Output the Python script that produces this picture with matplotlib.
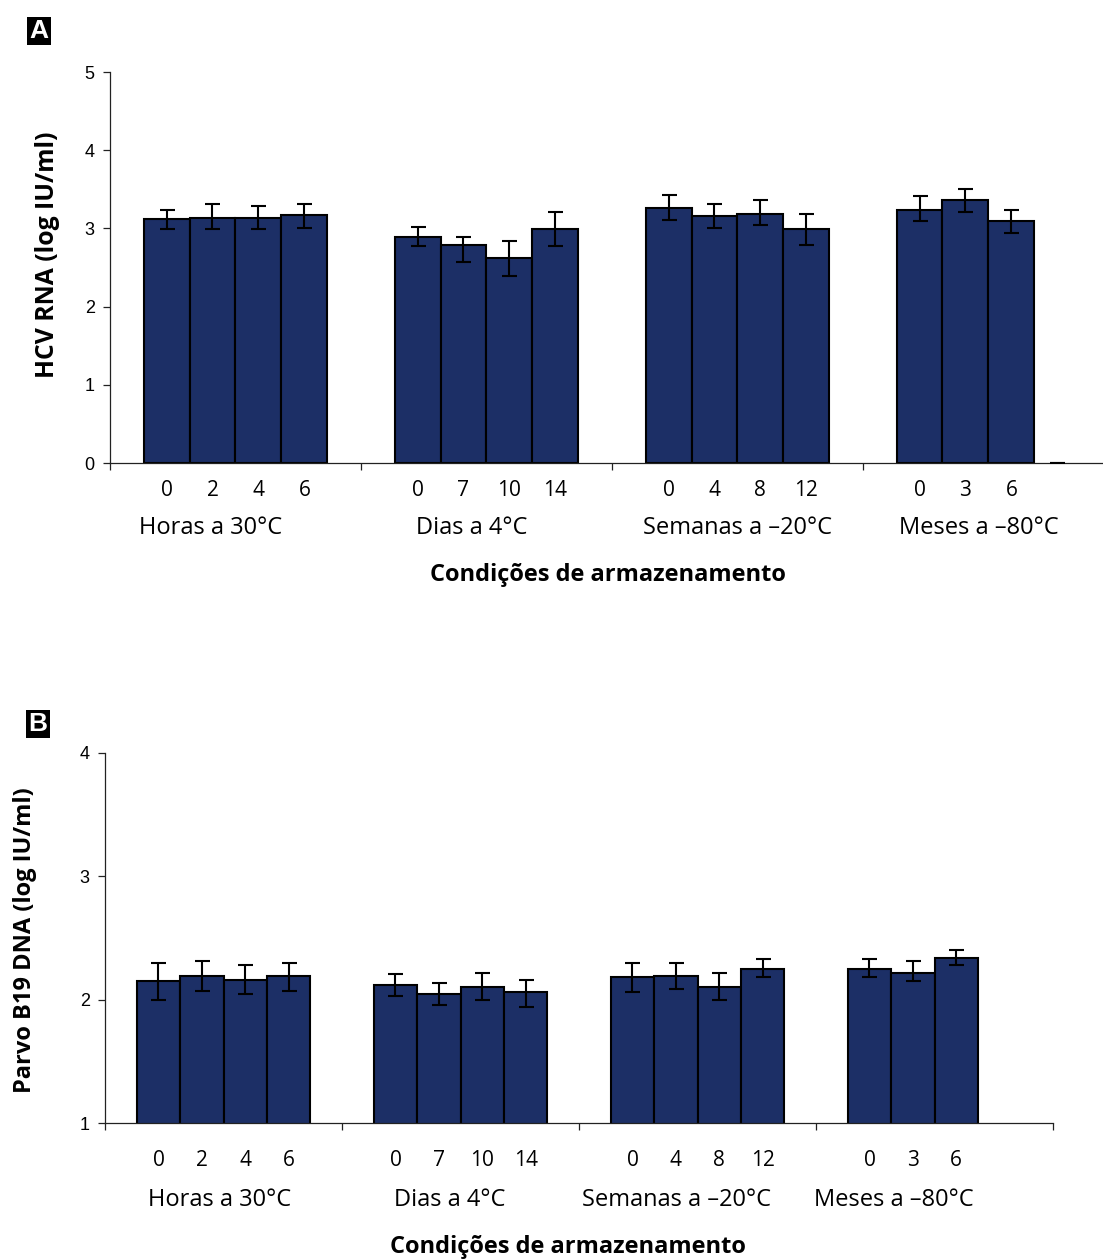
import matplotlib
matplotlib.use("Agg")
import matplotlib.pyplot as plt
import matplotlib.transforms as mtransforms

# Group names and per-bar labels (shared by both panels)
groups = ["Horas a 30°C", "Dias a 4°C", "Semanas a \u201320°C", "Meses a \u201380°C"]
bar_labels = [["0", "2", "4", "6"], ["0", "7", "10", "14"], ["0", "4", "8", "12"], ["0", "3", "6", ""]]

# Panel A - HCV RNA (log IU/ml)
hcv_vals = [3.12, 3.14, 3.14, 3.17, 2.89, 2.79, 2.62, 2.99,
            3.26, 3.16, 3.19, 2.99, 3.24, 3.36, 3.09, 0.0]
hcv_err_lo = [0.13, 0.15, 0.15, 0.16, 0.12, 0.22, 0.23, 0.22,
              0.15, 0.15, 0.15, 0.20, 0.15, 0.15, 0.15, 0.0]
hcv_err_hi = [0.12, 0.17, 0.15, 0.14, 0.13, 0.10, 0.22, 0.22,
              0.17, 0.15, 0.17, 0.20, 0.17, 0.15, 0.15, 0.0]

# Panel B - Parvo B19 DNA (log IU/ml)
b19_vals = [2.15, 2.195, 2.16, 2.195, 2.12, 2.05, 2.105, 2.06,
            2.18, 2.195, 2.10, 2.25, 2.25, 2.22, 2.34, 0.0]
b19_err_lo = [0.15, 0.125, 0.11, 0.125, 0.09, 0.09, 0.105, 0.12,
              0.12, 0.105, 0.10, 0.07, 0.07, 0.07, 0.06, 0.0]
b19_err_hi = [0.145, 0.115, 0.12, 0.105, 0.09, 0.085, 0.115, 0.10,
              0.12, 0.105, 0.12, 0.08, 0.08, 0.09, 0.06, 0.0]

BAR_COLOR = "#1c2f66"
LABEL_FONT = ["Open Sans", "DejaVu Sans"]
TICK_FONT = ["Liberation Sans", "DejaVu Sans"]

fig = plt.figure(figsize=(11.03, 12.60), dpi=100)


def draw_panel(ax, vals, err_lo, err_hi, ylim, group_x, ypos):
    width = 0.183
    offset = 0.134
    xs = []
    for g in range(len(groups)):
        for k in range(4):
            xs.append(g + offset + width * (k + 0.5))

    # empty slots (value 0) get no outline, only the flat error cap shows
    lws = [1.5 if v > 0 else 0 for v in vals]
    ax.bar(xs, vals, width=width, color=BAR_COLOR, edgecolor="black",
           linewidth=lws, zorder=2)
    ax.errorbar(xs, vals, yerr=[err_lo, err_hi], fmt="none", ecolor="black",
                elinewidth=1.5, capsize=5.4, capthick=1.5, zorder=3)

    ax.set_xlim(0, len(groups))
    ax.set_ylim(*ylim)
    ax.set_yticks(range(ylim[0], ylim[1] + 1))
    ax.set_xticks(range(len(groups) + 1))
    ax.set_xticklabels([])
    for s in ["top", "right"]:
        ax.spines[s].set_visible(False)
    for s in ["left", "bottom"]:
        ax.spines[s].set_linewidth(0.9)
        ax.spines[s].set_color("#222222")
    ax.tick_params(axis="both", direction="out", length=5, width=0.9, color="#222222")
    ax.tick_params(axis="y", labelsize=13, pad=6)
    for lab in ax.get_yticklabels():
        lab.set_family(TICK_FONT)

    trans = mtransforms.blended_transform_factory(ax.transData, ax.transAxes)
    labels_flat = [l for grp in bar_labels for l in grp]
    for x, l in zip(xs, labels_flat):
        ax.text(x, ypos[0], l, transform=trans, ha="center", va="center",
                fontsize=15, family=LABEL_FONT)
    for gx, name in zip(group_x, groups):
        ax.text(gx, ypos[1], name, transform=trans, ha="center", va="center",
                fontsize=17, family=LABEL_FONT)


# Panel A
axA = fig.add_axes([0.0997, 0.6325, 0.9102, 0.3103])
draw_panel(axA, hcv_vals, hcv_err_lo, hcv_err_hi, (0, 5),
           [0.40, 1.44, 2.50, 3.46], (-0.069, -0.166))
fig.text(608 / 1103, 1 - 575 / 1260, "Condições de armazenamento", ha="center",
         va="center", fontsize=17, fontweight="bold", family=LABEL_FONT)
fig.text(47 / 1103, 1 - 255 / 1260, "HCV RNA (log IU/ml)", rotation=90, ha="center",
         va="center", fontsize=17.8, fontweight="bold", family=LABEL_FONT)

# Panel B
axB = fig.add_axes([0.0952, 0.1087, 0.8595, 0.2937])
draw_panel(axB, b19_vals, b19_err_lo, b19_err_hi, (1, 4),
           [0.485, 1.456, 2.41, 3.33], (-0.10, -0.208))
fig.text(568 / 1103, 1 - 1247 / 1260, "Condições de armazenamento", ha="center",
         va="center", fontsize=17, fontweight="bold", family=LABEL_FONT)
fig.text(25 / 1103, 1 - 940 / 1260, "Parvo B19 DNA (log IU/ml)", rotation=90, ha="center",
         va="center", fontsize=17, fontweight="bold", family=LABEL_FONT)

# Panel letters
for letter, (px, py) in [("A", (39, 31)), ("B", (38, 724))]:
    fig.text(px / 1103, 1 - py / 1260, letter, ha="center", va="center", color="white",
             fontsize=19, fontweight="bold", family=TICK_FONT,
             bbox=dict(boxstyle="square,pad=0.08", facecolor="black", edgecolor="none"))

fig.savefig("out.png", dpi=100)
